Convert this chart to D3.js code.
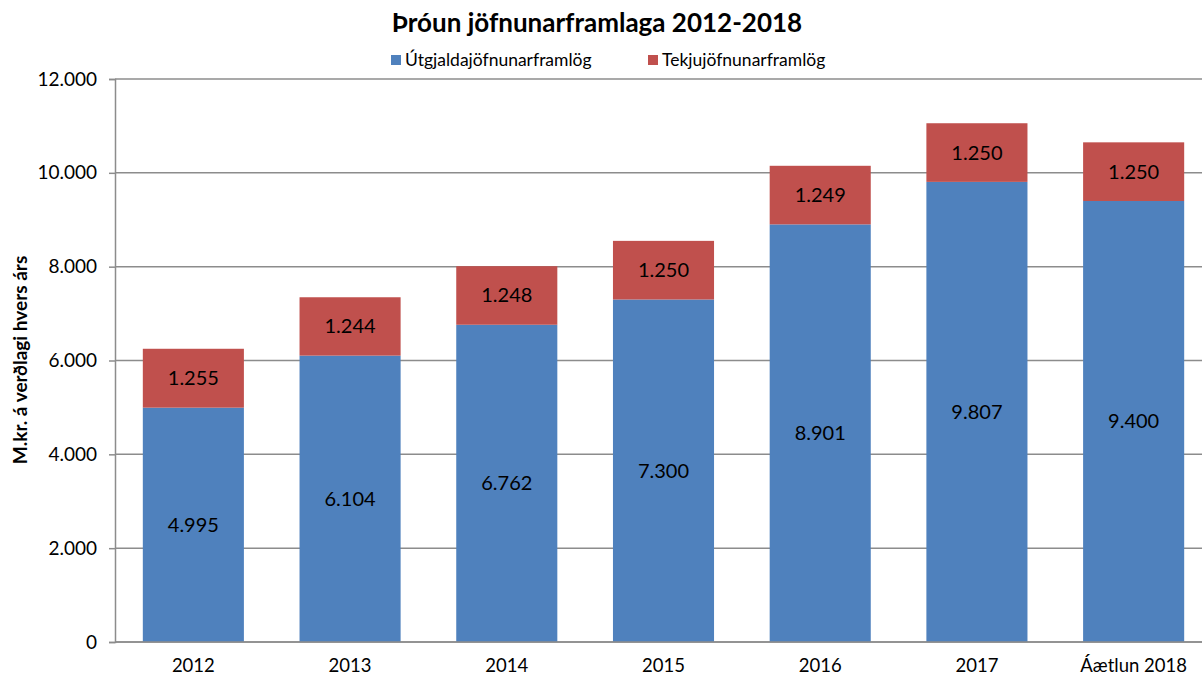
<!DOCTYPE html>
<html>
<head>
<meta charset="utf-8">
<script src="https://cdn.jsdelivr.net/npm/d3@7"></script>
<style>
  body { margin: 0; background: #fff; overflow: hidden; }
  text { font-family: Lato, "Open Sans", sans-serif; fill: #000; }
</style>
</head>
<body>
<script>
// data
const years = ["2012", "2013", "2014", "2015", "2016", "2017", "Áætlun 2018"];
const utgjalda = [4995, 6104, 6762, 7300, 8901, 9807, 9400];
const tekju = [1255, 1244, 1248, 1250, 1249, 1250, 1250];
const seriesNames = ["Útgjaldajöfnunarframlög", "Tekjujöfnunarframlög"];
const colors = ["#4F81BD", "#C0504D"];
const yTicks = [0, 2000, 4000, 6000, 8000, 10000, 12000];

const width = 1202, height = 677;
const plotLeft = 115, plotRight = 1212, plotTop = 79, plotBottom = 642;

const loc = d3.formatLocale({ decimal: ",", thousands: ".", grouping: [3], currency: ["", " kr."] });
const fmt = loc.format(",d");

var svg = d3.select("body").append("svg")
    .attr("width", width)
    .attr("height", height);

var x = d3.scaleBand().domain(years).range([plotLeft, plotRight]).paddingInner(0.355).paddingOuter(0.1775);
var y = d3.scaleLinear().domain([0, 12000]).range([plotBottom, plotTop]);

// gridlines
svg.append("g").selectAll("line")
    .data(yTicks)
    .enter().append("line")
    .attr("x1", plotLeft).attr("x2", plotRight)
    .attr("y1", d => y(d)).attr("y2", d => y(d))
    .attr("stroke", "#8c8c8c")
    .attr("stroke-width", 1.5);

// y axis
var yAxis = svg.append("g")
    .attr("transform", "translate(" + plotLeft + ",0)")
    .call(d3.axisLeft(y).tickValues(yTicks).tickFormat(fmt).tickSize(6).tickPadding(12));
yAxis.select(".domain").attr("stroke", "#8c8c8c").attr("stroke-width", 1.5);
yAxis.selectAll(".tick line").attr("stroke", "#8c8c8c").attr("stroke-width", 1.5);
yAxis.selectAll("text").style("font-size", "19px").style("font-family", "Lato, sans-serif").attr("fill", "#000");

// stacked data
var stacked = years.map((yr, i) => ({ year: yr, a: utgjalda[i], b: tekju[i] }));

var bars = svg.append("g").selectAll("g")
    .data(stacked)
    .enter().append("g");

bars.append("rect")
    .attr("x", d => x(d.year))
    .attr("width", x.bandwidth())
    .attr("y", d => y(d.a))
    .attr("height", d => y(0) - y(d.a))
    .attr("fill", colors[0]);

bars.append("rect")
    .attr("x", d => x(d.year))
    .attr("width", x.bandwidth())
    .attr("y", d => y(d.a + d.b))
    .attr("height", d => y(d.a) - y(d.a + d.b))
    .attr("fill", colors[1]);

bars.append("text")
    .attr("x", d => x(d.year) + x.bandwidth() / 2)
    .attr("y", d => (y(0) + y(d.a)) / 2)
    .attr("dy", "0.35em")
    .attr("text-anchor", "middle")
    .style("font-size", "20px")
    .text(d => fmt(d.a));

bars.append("text")
    .attr("x", d => x(d.year) + x.bandwidth() / 2)
    .attr("y", d => (y(d.a) + y(d.a + d.b)) / 2)
    .attr("dy", "0.35em")
    .attr("text-anchor", "middle")
    .style("font-size", "20px")
    .text(d => fmt(d.b));

// x axis line
svg.append("line")
    .attr("x1", plotLeft).attr("x2", plotRight)
    .attr("y1", plotBottom).attr("y2", plotBottom)
    .attr("stroke", "#8c8c8c").attr("stroke-width", 1.5);

svg.append("g").selectAll("text")
    .data(years)
    .enter().append("text")
    .attr("x", d => x(d) + x.bandwidth() / 2)
    .attr("y", 672)
    .attr("text-anchor", "middle")
    .style("font-size", "18.5px")
    .text(d => d);

// title
svg.append("text")
    .attr("x", 597).attr("y", 32)
    .attr("text-anchor", "middle")
    .style("font-size", "26px")
    .style("font-weight", "bold")
    .text("Þróun jöfnunarframlaga 2012-2018");

// y axis label
svg.append("text")
    .attr("transform", "translate(27,360) rotate(-90)")
    .attr("text-anchor", "middle")
    .style("font-size", "19px")
    .style("font-weight", "bold")
    .text("M.kr. á verðlagi hvers árs");

// legend
var legendX = [391, 648];
var legend = svg.append("g").selectAll("g")
    .data(seriesNames)
    .enter().append("g")
    .attr("transform", (d, i) => "translate(" + legendX[i] + ",60)");
legend.append("rect")
    .attr("x", 0).attr("y", -5)
    .attr("width", 10).attr("height", 10)
    .attr("fill", (d, i) => colors[i]);
legend.append("text")
    .attr("x", 14).attr("y", 0)
    .attr("dy", "0.35em")
    .style("font-size", "17.5px")
    .text(d => d);
</script>
</body>
</html>
